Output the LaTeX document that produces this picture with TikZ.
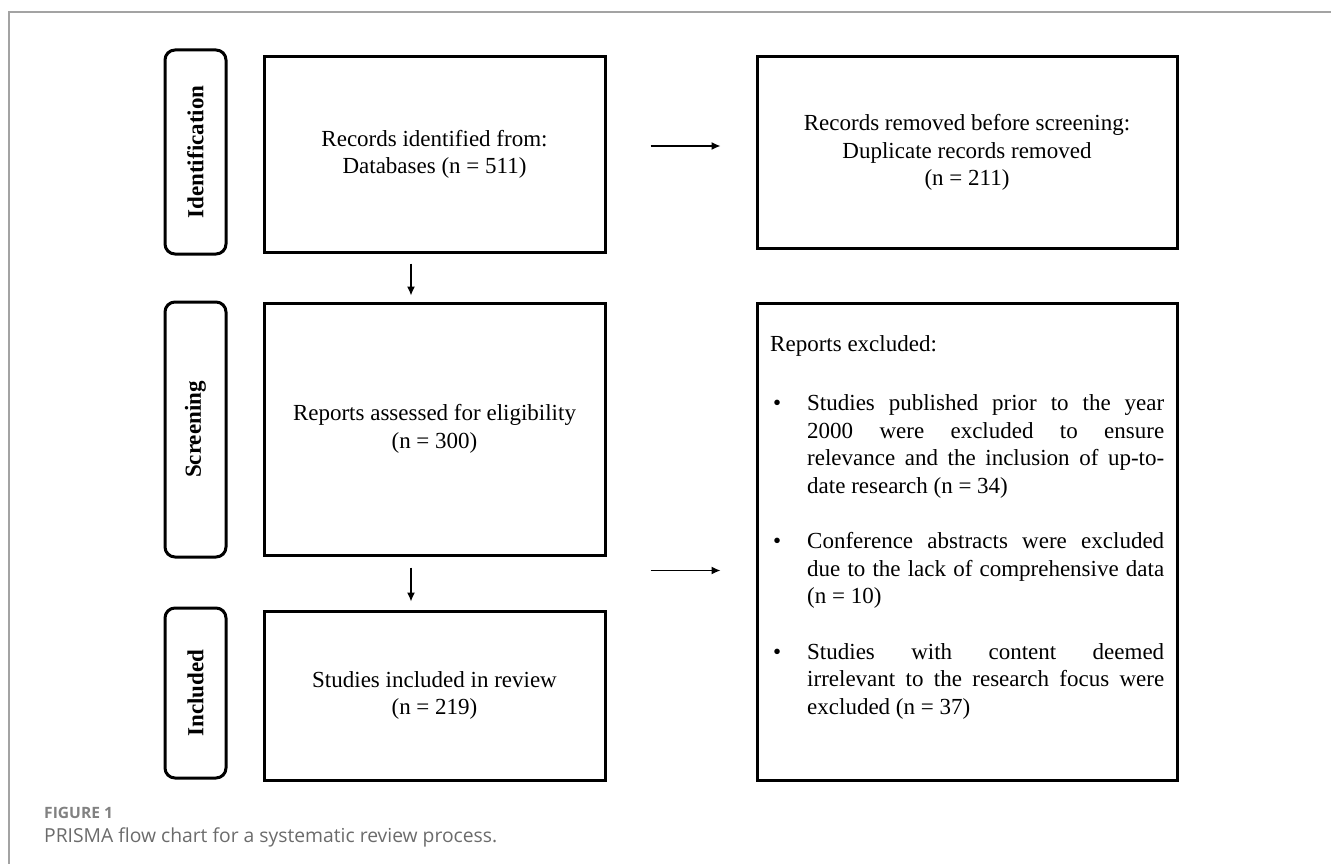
\documentclass[tikz,border=0pt]{standalone}
\usepackage{fontspec}
\setmainfont{Liberation Serif}
\newfontfamily\capfont{Open Sans}
\usepackage{xcolor}
\definecolor{framegray}{HTML}{A3A3A3}
\definecolor{capgray}{HTML}{6B6B6B}
\usepackage{tikz}
\usetikzlibrary{arrows.meta, positioning, calc}

\tikzset{
  stagebox/.style={draw, line width=3pt, rounded corners=10pt, rotate=90,
    minimum height=61pt, inner sep=0pt,
    font=\bfseries\fontsize{23}{27.6}\selectfont},
  flowbox/.style={draw, line width=3pt, align=center, inner sep=0pt,
    font=\fontsize{23}{27.6}\selectfont},
  listtext/.style={text width=394pt, align=justify, inner sep=0pt,
    font=\fontsize{23}{27.6}\selectfont},
  flowarrow/.style={-{Latex[length=9pt,width=8pt]}, line width=1.3pt},
}
\newcommand{\exclitem}[1]{\par\noindent\hangindent=37pt\hangafter=0
  \llap{\makebox[34pt][l]{\textbullet}}#1\par}

\begin{document}
\begin{tikzpicture}[x=1pt, y=-1pt]
\useasboundingbox (0,0) rectangle (1331,864);
\tolerance=10000 \hbadness=10000

% Outer frame
\draw[framegray, line width=1.2pt] (9,864) -- (9,12) -- (1331,12);

% Stage labels
\foreach \name/\lbl/\yc/\hgt in {stid/Identification/152/204,
    stscr/Screening/429.5/255, stinc/Included/693/170}
  \node[stagebox, minimum width=\hgt pt] (\name) at (195.5,\yc) {\lbl};

% Main column
\node[flowbox, minimum width=341pt, minimum height=195pt] (recs) at (434.5,154.5)
  {Records identified from:\\Databases (n = 511)};
\node[flowbox, minimum width=341pt, minimum height=252pt] (assess) at (434.5,429)
  {Reports assessed for eligibility\\(n = 300)};
\node[flowbox, minimum width=341pt, minimum height=169pt] (incl) at (434.5,695.5)
  {Studies included in review\\(n = 219)};

% Side column
\node[flowbox, minimum width=420pt, minimum height=191pt] (dup) at (967,152.5)
  {Records removed before screening:\\Duplicate records removed\\(n = 211)};
\node[flowbox, minimum width=420pt, minimum height=477pt] (excl) at (967,541.5) {};
\node[listtext, anchor=north west] (excltxt) at (770,335.5) {%
  \noindent Reports excluded:\par\vspace{31.4pt}
  \exclitem{Studies published prior to the year\linebreak 2000 were excluded to ensure\linebreak
    relevance and the inclusion of up-to-\linebreak date research (n = 34)}
  \vspace{27.6pt}
  \exclitem{Conference abstracts were excluded\linebreak due to the lack of comprehensive data\linebreak
    (n = 10)}
  \vspace{27.6pt}
  \exclitem{Studies with content deemed\linebreak irrelevant to the research focus were\linebreak
    excluded (n = 37)}};

% Arrows
\draw[flowarrow, shorten <=10pt, shorten >=6pt]
  ([xshift=-23.5pt]recs.south) -- ([xshift=-23.5pt]assess.north);
\draw[flowarrow, shorten <=11pt, shorten >=8pt]
  ([xshift=-23.5pt]assess.south) -- ([xshift=-23.5pt]incl.north);
\coordinate (toprow) at ([yshift=8.5pt]recs.east);
\draw[flowarrow, shorten <=44pt, shorten >=35pt] (toprow) -- (toprow -| dup.west);
\coordinate (midrow) at ([yshift=-14pt]assess.south east);
\draw[flowarrow, shorten <=44pt, shorten >=35pt] (midrow) -- (midrow -| excl.west);

% Caption
\node[font=\capfont\bfseries\fontsize{15.6}{18}\selectfont, text=capgray!85,
  anchor=base west, inner sep=0pt] (fignum) at (44,818) {FIGURE 1};
\node[font=\capfont\fontsize{19.3}{23}\selectfont, text=capgray,
  anchor=base west, inner sep=0pt] (figcap) at (44,842)
  {PRISMA flow chart for a systematic review process.};
\end{tikzpicture}
\end{document}
